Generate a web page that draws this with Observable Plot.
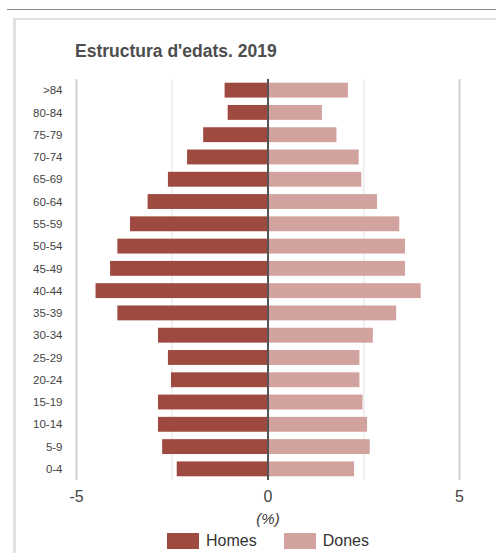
<!DOCTYPE html>
<html><head><meta charset="utf-8">
<script src="https://cdn.jsdelivr.net/npm/d3@7"></script>
<script src="https://cdn.jsdelivr.net/npm/@observablehq/plot@0.6"></script>
<style>
body{margin:0;background:#fff;font-family:"Liberation Sans",Arial,sans-serif;}
#wrap{position:relative;width:496px;height:553px;overflow:hidden;background:#fff;}
.topline{position:absolute;left:7px;top:9px;width:489px;height:1px;background:#8a8a8a;}
.panel{position:absolute;left:13px;top:18px;width:500px;height:560px;border-left:3px solid #e2e2e2;border-top:2px solid #e2e2e2;box-sizing:border-box;}
.title{position:absolute;left:75px;top:41px;font-size:17.5px;font-weight:bold;color:#4d4d4d;white-space:nowrap;}
#chart{position:absolute;left:0;top:60px;}
.xlabel{position:absolute;left:0;width:536px;text-align:center;top:510px;font-size:15px;font-style:italic;color:#3a3a3a;}
.legend{position:absolute;top:532px;left:167px;display:flex;align-items:center;font-size:16px;color:#333;}
.legend .item{display:flex;align-items:center;margin-right:0;}
.legend .sw{width:32px;height:16px;margin-right:7px;}
</style></head><body>
<div id="wrap">
 <div class="topline"></div>
 <div class="panel"></div>
 <div class="title">Estructura d'edats. 2019</div>
 <div id="chart"></div>
 <div class="xlabel">(%)</div>
 <div class="legend" id="legend"></div>
</div>
<script>
const ageGroups = [">84","80-84","75-79","70-74","65-69","60-64","55-59","50-54","45-49","40-44","35-39","30-34","25-29","20-24","15-19","10-14","5-9","0-4"];
const homes = [-1.12,-1.04,-1.68,-2.10,-2.60,-3.13,-3.59,-3.92,-4.11,-4.49,-3.92,-2.86,-2.60,-2.52,-2.86,-2.86,-2.75,-2.37];
const dones = [2.10,1.42,1.80,2.38,2.45,2.86,3.44,3.59,3.59,4.00,3.36,2.75,2.40,2.40,2.48,2.60,2.67,2.26];
const xTicks = [-5,0,5];
const minorGrid = [-2.5,2.5];
const seriesNames = ["Homes","Dones"];
const seriesColors = ["#9f4a40","#d2a39e"];

const data = [];
ageGroups.forEach((g,i)=>{
  data.push({age:g, sex:seriesNames[0], value:homes[i]});
  data.push({age:g, sex:seriesNames[1], value:dones[i]});
});

const chart = Plot.plot({
  width: 496,
  height: 460,
  marginTop: 19,
  marginBottom: 40,
  marginLeft: 76,
  marginRight: 37,
  style: {fontFamily: '"Liberation Sans", Arial, sans-serif', color: "#444", background: "transparent"},
  x: {domain: [-5,5]},
  y: {domain: ageGroups, padding: 0, round: false},
  color: {domain: seriesNames, range: seriesColors},
  marks: [
    Plot.ruleX(minorGrid, {stroke: "#ececec", strokeWidth: 1.5}),
    Plot.ruleX([xTicks[0], xTicks[2]], {stroke: "#cfcfcf", strokeWidth: 2}),
    Plot.barX(data, {y: "age", x1: 0, x2: "value", fill: "sex", insetTop: 3.7, insetBottom: 3.7}),
    Plot.ruleX([0], {stroke: "#555", strokeWidth: 2}),
    Plot.axisY({tickSize: 0, tickPadding: 14, fontSize: 11.5, label: null}),
    Plot.axisX({ticks: xTicks, tickSize: 0, tickPadding: 10, fontSize: 16, label: null, tickFormat: d => String(d)})
  ]
});
document.getElementById("chart").appendChild(chart);

const legend = document.getElementById("legend");
seriesNames.forEach((n,i)=>{
  const it = document.createElement("div");
  it.className = "item";
  it.style.marginRight = i === 0 ? "27px" : "0";
  const sw = document.createElement("div");
  sw.className = "sw";
  sw.style.background = seriesColors[i];
  const tx = document.createElement("span");
  tx.textContent = n;
  it.appendChild(sw); it.appendChild(tx);
  legend.appendChild(it);
});
</script>
</body></html>
